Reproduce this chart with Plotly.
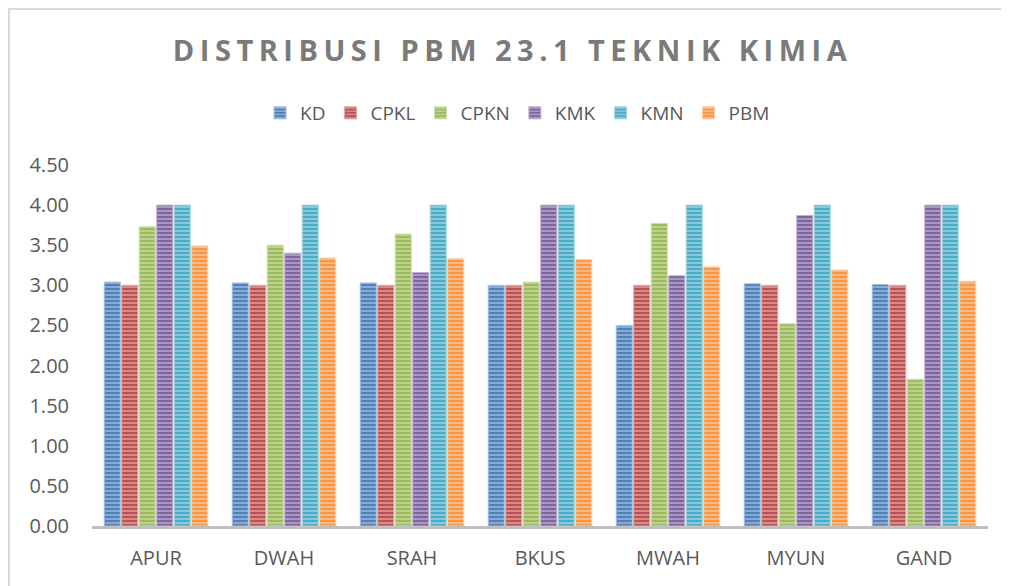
import plotly.graph_objects as go

categories = ["APUR", "DWAH", "SRAH", "BKUS", "MWAH", "MYUN", "GAND"]
series_names = ["KD", "CPKL", "CPKN", "KMK", "KMN", "PBM"]
kd = [3.04, 3.03, 3.03, 3.00, 2.50, 3.02, 3.01]
cpkl = [3.00, 3.00, 3.00, 3.00, 3.00, 3.00, 3.00]
cpkn = [3.73, 3.50, 3.64, 3.04, 3.77, 2.52, 1.83]
kmk = [4.00, 3.40, 3.16, 4.00, 3.12, 3.87, 4.00]
kmn = [4.00, 4.00, 4.00, 4.00, 4.00, 4.00, 4.00]
pbm = [3.49, 3.34, 3.33, 3.32, 3.23, 3.19, 3.05]
y_ticks = [0, 0.5, 1, 1.5, 2, 2.5, 3, 3.5, 4, 4.5]
y_tick_labels = ["0.00", "0.50", "1.00", "1.50", "2.00", "2.50", "3.00", "3.50", "4.00", "4.50"]

colors = ["#4f81bd", "#c0504d", "#9bbb59", "#8064a2", "#4bacc6", "#f79646"]
edge = ["#a7c0de", "#dfa7a6", "#cddcac", "#bfb1d0", "#a5d5e2", "#fbcaa2"]
values = [kd, cpkl, cpkn, kmk, kmn, pbm]

# page body has an 8px margin: figure origin sits at (8, 8) in the screenshot
L, T, B, R = 84, 157, 68, 29
PW, PH = 1009 - L - R, 586 - T - B

fig = go.Figure()
for name, vals, c, e in zip(series_names, values, colors, edge):
    fig.add_trace(go.Bar(
        x=categories, y=vals, name=name,
        marker=dict(
            color=c,
            line=dict(color=e, width=1),
            pattern=dict(shape="-", fillmode="overlay", fgcolor="white",
                         fgopacity=0.55, size=4, solidity=0.3),
        ),
    ))

fig.update_layout(
    width=1009, height=586,
    paper_bgcolor="white", plot_bgcolor="white",
    margin=dict(l=L, r=R, t=T, b=B, autoexpand=False),
    barmode="group", bargap=0.18, bargroupgap=0.08,
    font=dict(family="Open Sans, Lato, sans-serif", color="#595959", size=20),
    title=dict(
        text='<span style="letter-spacing:5.5px">DISTRIBUSI PBM 23.1 TEKNIK KIMIA</span>',
        x=0.5, xanchor="center", xref="container",
        y=1 - 43 / 586, yanchor="middle", yref="container",
        font=dict(size=29, color="#7a7a7a", family="Open Sans, sans-serif", weight="bold"),
    ),
    legend=dict(
        orientation="h", x=0.505, xanchor="center", xref="container",
        y=(PH + T - 105) / PH, yanchor="middle",
        font=dict(size=19, color="#595959"),
        itemwidth=30, traceorder="normal",
    ),
    showlegend=True,
)
fig.update_xaxes(
    showline=True, linecolor="#bfbfbf", linewidth=3,
    showgrid=False, ticks="", ticklabelstandoff=12, tickangle=0,
    tickfont=dict(size=20, color="#595959"),
)
fig.update_yaxes(
    range=[0, 4.5], tickvals=y_ticks, ticktext=y_tick_labels,
    showgrid=False, showline=False, zeroline=False, ticks="",
    ticklabelstandoff=22, tickfont=dict(size=20, color="#595959"),
)
# chart border (only top and left visible in the frame)
fig.add_shape(type="rect", xref="paper", yref="paper",
              x0=(1 - L) / PW, x1=(1030 - L) / PW,
              y0=(PH + T - 620) / PH, y1=(PH + T - 1) / PH,
              line=dict(color="#d9d9d9", width=2), fillcolor="rgba(0,0,0,0)", layer="below")

fig.write_html("out.html")
